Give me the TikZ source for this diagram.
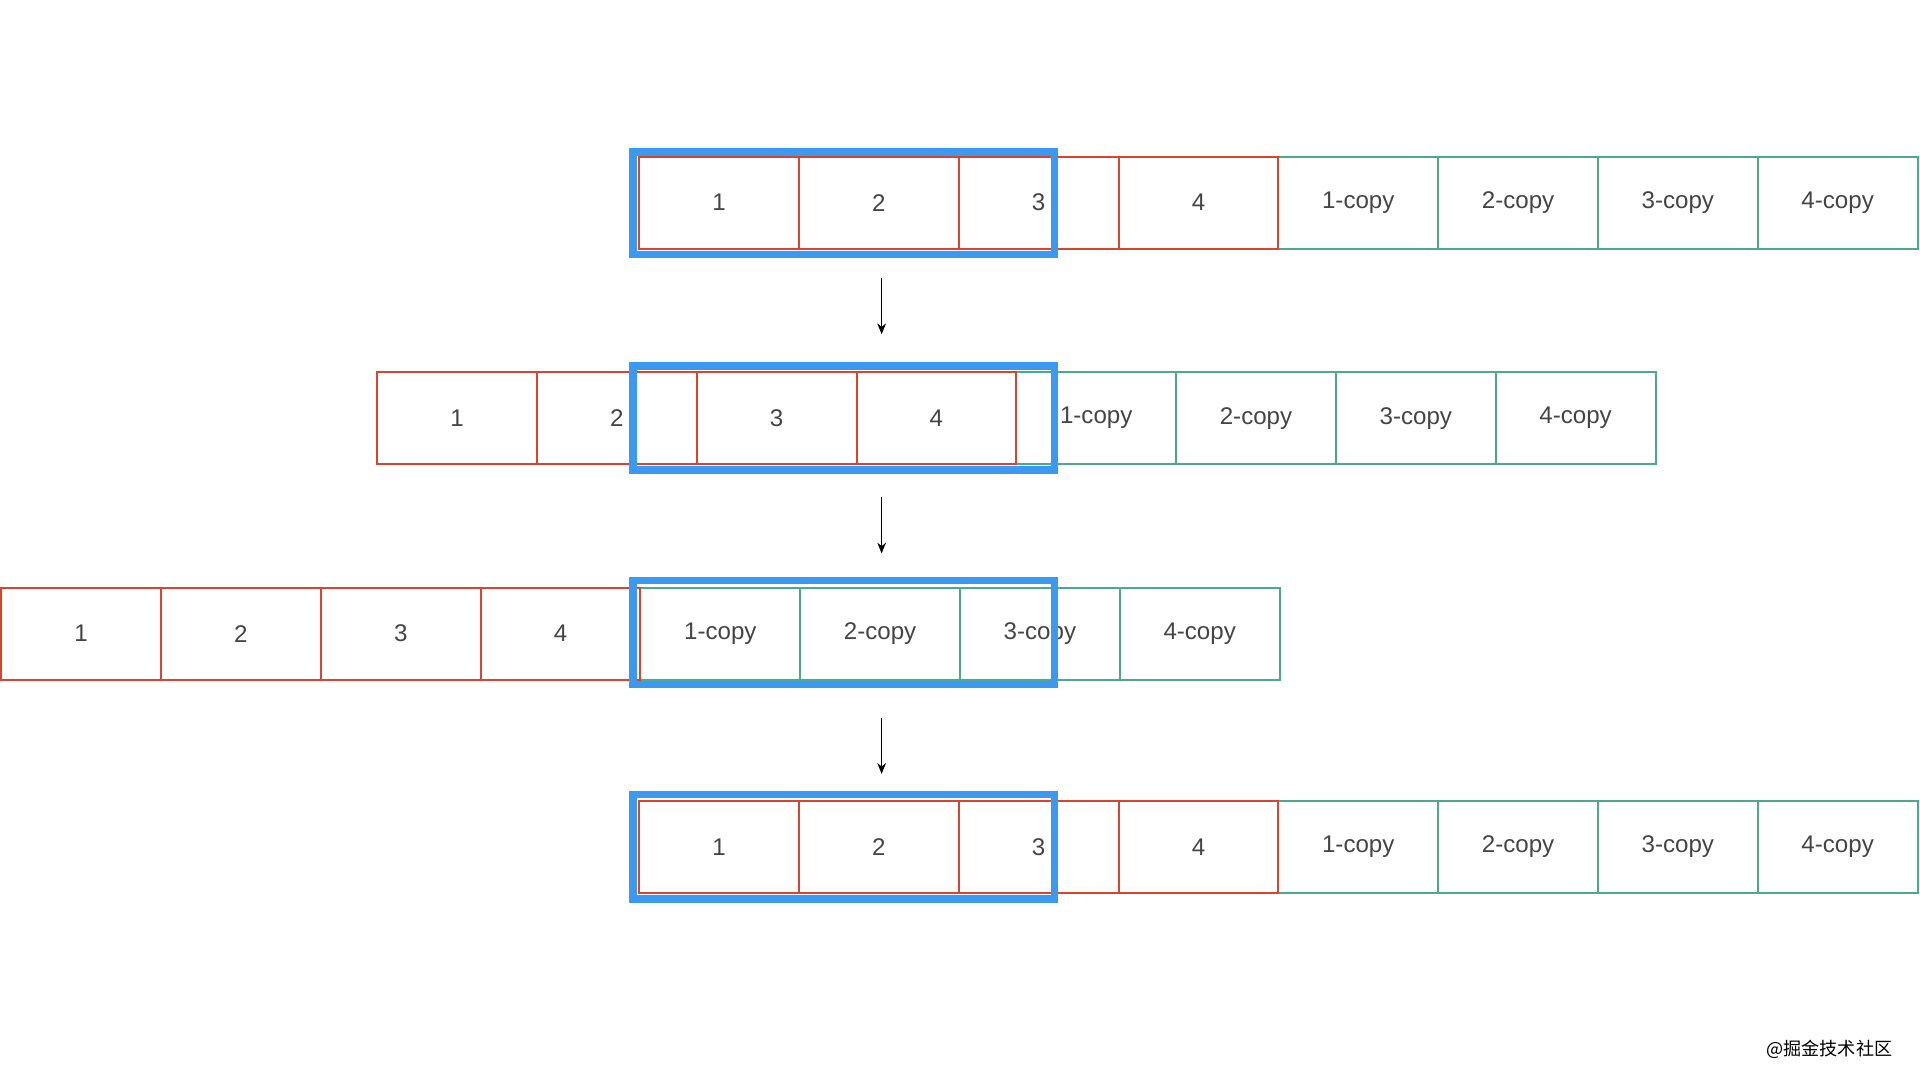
\documentclass[tikz,border=0pt]{standalone}
\usepackage{fontspec}
\setmainfont{Liberation Sans}
\newfontfamily\cjkfont{Noto Sans CJK SC}
\usepackage{tikz}
\usetikzlibrary{positioning, arrows.meta}

\definecolor{cellred}{HTML}{D9432F}
\definecolor{cellgreen}{HTML}{4BAA8C}
\definecolor{winblue}{HTML}{3B99F0}
\definecolor{txtgray}{HTML}{444444}

\begin{document}
\begin{tikzpicture}[%
    x=0.01cm, y=0.01cm,
    every node/.style={
        font=\fontsize{5.6}{6}\selectfont,
        text=txtgray,
        inner sep=0pt, outer sep=0pt,
    },
    cell/.style={draw, line width=0.45pt, minimum width=1.305cm, minimum height=0.75cm},
    redcell/.style={cell, draw=cellred},
    greencell/.style={cell, draw=cellgreen},
    window/.style={draw=winblue, line width=1.75pt},
    steparrow/.style={-{Stealth[length=2.5pt,width=2pt]}, line width=0.4pt},
]

\useasboundingbox (0,0) rectangle (1568,-880);

% row 1
\foreach \i in {1,...,4}{
    \node[redcell] (ra\i) at ({522+130.5*(\i-0.5)}, -165.5) {\i};
    \node[greencell] (ga\i) at ({1044+130.5*(\i-0.5)}, -165.5) {\i-copy};
}
\draw[window] (517,-124) rectangle (861,-208);

% row 2
\foreach \i in {1,...,4}{
    \node[redcell] (rb\i) at ({308+130.5*(\i-0.5)}, -341.5) {\i};
    \node[greencell] (gb\i) at ({830+130.5*(\i-0.5)}, -341.5) {\i-copy};
}
\draw[window] (517,-299) rectangle (861,-384);

% row 3
\foreach \i in {1,...,4}{
    \node[redcell] (rc\i) at ({1+130.5*(\i-0.5)}, -517.5) {\i};
    \node[greencell] (gc\i) at ({523+130.5*(\i-0.5)}, -517.5) {\i-copy};
}
\draw[window] (517,-474) rectangle (861,-559);

% row 4
\foreach \i in {1,...,4}{
    \node[redcell] (rd\i) at ({522+130.5*(\i-0.5)}, -691.5) {\i};
    \node[greencell] (gd\i) at ({1044+130.5*(\i-0.5)}, -691.5) {\i-copy};
}
\draw[window] (517,-649) rectangle (861,-734);

% arrows between rows
\coordinate (s1) at (720,-227);
\coordinate (e1) at (720,-273);
\coordinate (s2) at (720,-406);
\coordinate (e2) at (720,-452);
\coordinate (s3) at (720,-586);
\coordinate (e3) at (720,-632);
\foreach \k in {1,2,3}{
    \draw[steparrow] (s\k) -- (e\k);
}

\node[font=\cjkfont\fontsize{4.2}{5}\selectfont, text=black] (mark) at (1494,-857) {@掘金技术社区};

\end{tikzpicture}
\end{document}
